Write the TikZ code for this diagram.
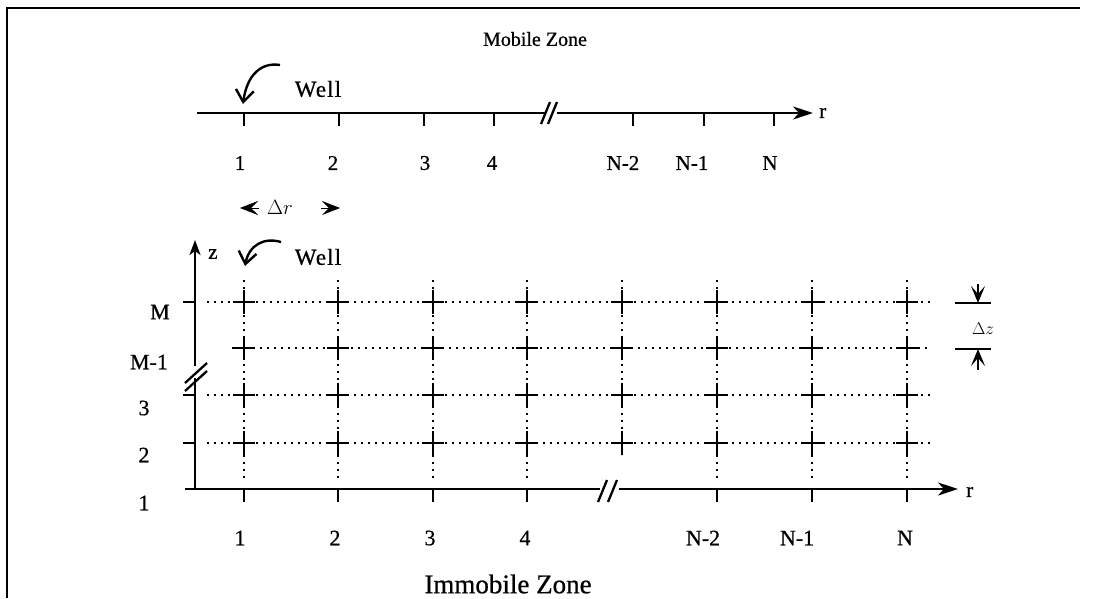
\documentclass[tikz,border=0pt]{standalone}
\usepackage{fontspec}
\setmainfont{Liberation Serif}[FakeBold=0.7]
\usetikzlibrary{arrows.meta}
\begin{document}
\begin{tikzpicture}[x=1pt,y=-1pt,
  axis/.style={line width=2.6pt},
  frameline/.style={line width=1.8pt},
  gridline/.style={line width=1.8pt, dash pattern=on 1.8pt off 5.2pt},
  crossarm/.style={line width=2.6pt},
  breakmark/.style={line width=2.3pt},
  axisarrow/.style={axis, -{Stealth[length=20pt,width=13pt,inset=6pt]}},
  zarrow/.style={axis, -{Stealth[length=15pt,width=11pt,inset=4pt]}},
  headonly/.style={-{Stealth[length=18pt,width=14pt,inset=7pt]}, line width=0.5pt},
  dzarrow/.style={line width=1.8pt, -{Stealth[length=17pt,width=14pt,inset=8pt]}},
  wellarrow/.style={line width=2.4pt, -{Straight Barb[length=12pt,width=18pt]}},
  lbl/.style={font=\fontsize{21}{21}\selectfont, inner sep=0pt},
  blbl/.style={font=\fontsize{22}{22}\selectfont, inner sep=0pt},
  welltxt/.style={font=\fontsize{23}{23}\selectfont\addfontfeature{LetterSpace=5}, inner sep=0pt},
  zonetxt/.style={font=\fontsize{20}{20}\selectfont, inner sep=0pt},
  bigzone/.style={font=\fontsize{27}{27}\selectfont, inner sep=0pt}
]
\useasboundingbox (0,0) rectangle (1109,598);

% frame (top and left edges)
\coordinate (fTL) at (7,8);
\coordinate (fTR) at (1080,8);
\coordinate (fBL) at (7,598);
\draw[frameline] (fTR) -- (fTL) -- (fBL);

% ---------- Mobile zone ----------
\node[zonetxt] (mz) at (535,39) {Mobile Zone};
\coordinate (ta0) at (197,113);
\coordinate (taB1) at (545,113);
\coordinate (taB2) at (557,113);
\coordinate (ta1) at (813,113);
\draw[axis] (ta0) -- (taB1);
\draw[axisarrow] (taB2) -- (ta1);
\coordinate (ts1a) at (541,124); \coordinate (ts1b) at (550,102);
\coordinate (ts2a) at (548,124); \coordinate (ts2b) at (557,102);
\draw[breakmark] (ts1a) -- (ts1b);
\draw[breakmark] (ts2a) -- (ts2b);
\node[lbl, anchor=west] (tr) at (819,113) {r};
\foreach \x/\lx/\t [count=\i] in {244/240/1, 339/333/2, 424/425/3, 494/492/4, 633/623/N-2, 704/692/N-1, 774/770/N} {
  \coordinate (tt\i) at (\x,113);
  \coordinate (tb\i) at (\x,126);
  \draw[axis] (tt\i) -- (tb\i);
  \node[lbl] (tl\i) at (\lx,163) {\t};
}
% well (top)
\coordinate (wt1) at (280,65);
\coordinate (wt2) at (243,104);
\draw[wellarrow] (wt1) .. controls (262,62) and (247,74) .. (wt2);
\node[welltxt] (w1) at (318,89) {Well};

% ---------- Delta r ----------
\coordinate (drL0) at (259,208); \coordinate (drL1) at (240,208);
\coordinate (drR0) at (321,208); \coordinate (drR1) at (340,208);
\draw[headonly] (drL0) -- (drL1);
\draw[headonly] (drR0) -- (drR1);
\node[lbl] (dr) at (280,207) {$\Delta r$};

% ---------- Immobile zone grid ----------
\coordinate (zb) at (195,489);
\coordinate (zB1) at (195,378);
\coordinate (zB2) at (195,366);
\coordinate (zt) at (195,240);
\draw[axis] (zb) -- (zB1);
\draw[zarrow] (zB2) -- (zt);
\coordinate (zs1a) at (185,383); \coordinate (zs1b) at (207,363);
\coordinate (zs2a) at (185,391); \coordinate (zs2b) at (207,371);
\draw[breakmark] (zs1a) -- (zs1b);
\draw[breakmark] (zs2a) -- (zs2b);
\node[lbl, anchor=west] (zl) at (208,254) {z};

% well (bottom)
\coordinate (wb1) at (281,242);
\coordinate (wb2) at (245,266);
\draw[wellarrow] (wb1) .. controls (264,237) and (249,245) .. (wb2);
\node[welltxt] (w2) at (318,257) {Well};

% horizontal dotted rows
\foreach \r/\s [count=\j] in {302/207, 348/232, 395/207, 443/207} {
  \coordinate (rowL\j) at (\s,\r);
  \coordinate (rowR\j) at (930,\r);
  \draw[gridline] (rowL\j) -- (rowR\j);
}
% ticks on z axis
\foreach \r [count=\j] in {302,395,443} {
  \coordinate (zk\j) at (183,\r);
  \coordinate (zka\j) at (195,\r);
  \draw[axis] (zk\j) -- (zka\j);
}
% row labels
\node[blbl] (rlM) at (160,312) {M};
\node[blbl] (rlM1) at (149,362) {M-1};
\node[blbl] (rl3) at (144,408) {3};
\node[blbl] (rl2) at (144,455) {2};
\node[blbl] (rl1) at (144,503) {1};

% vertical dotted columns and crosses
\foreach \c/\e [count=\i] in {244/478, 338/478, 433/478, 527/478, 622/455, 717/478, 812/478, 907/478} {
  \coordinate (cT\i) at (\c,280);
  \coordinate (cB\i) at (\c,\e);
  \draw[gridline] (cT\i) -- (cB\i);
  \foreach \r [count=\j] in {302,348,395,443} {
    \coordinate (xl\i\j) at (\c-11,\r);
    \coordinate (xr\i\j) at (\c+11,\r);
    \coordinate (xu\i\j) at (\c,\r-12);
    \coordinate (xd\i\j) at (\c,\r+12);
    \draw[crossarm] (xl\i\j) -- (xr\i\j);
    \draw[crossarm] (xu\i\j) -- (xd\i\j);
  }
}

% bottom r axis
\coordinate (ba0) at (185,489);
\coordinate (baB1) at (600,489);
\coordinate (baB2) at (619,489);
\coordinate (ba1) at (958,489);
\draw[axis] (ba0) -- (baB1);
\draw[axisarrow] (baB2) -- (ba1);
\coordinate (bs1a) at (598,502); \coordinate (bs1b) at (607,480);
\coordinate (bs2a) at (608,502); \coordinate (bs2b) at (617,480);
\draw[breakmark] (bs1a) -- (bs1b);
\draw[breakmark] (bs2a) -- (bs2b);
\node[lbl, anchor=west] (br) at (966,492) {r};
\foreach \x/\lx/\t [count=\i] in {244/240/1, 338/335/2, 433/430/3, 527/525/4, 717/703/N-2, 812/797/N-1, 907/905/N} {
  \coordinate (bt\i) at (\x,489);
  \coordinate (bb\i) at (\x,502);
  \draw[axis] (bt\i) -- (bb\i);
  \node[blbl] (bl\i) at (\lx,538) {\t};
}
\node[bigzone] (iz) at (508,584) {Immobile Zone};

% ---------- Delta z ----------
\coordinate (dzA1) at (955,303); \coordinate (dzA2) at (991,303);
\coordinate (dzB1) at (955,349); \coordinate (dzB2) at (991,349);
\draw[axis] (dzA1) -- (dzA2);
\draw[axis] (dzB1) -- (dzB2);
\coordinate (dzT0) at (978,284); \coordinate (dzT1) at (978,303);
\coordinate (dzU0) at (978,370); \coordinate (dzU1) at (978,349);
\draw[dzarrow] (dzT0) -- (dzT1);
\draw[dzarrow] (dzU0) -- (dzU1);
\node[font=\fontsize{19}{19}\selectfont, inner sep=0pt] (dz) at (983,329) {$\Delta z$};
\end{tikzpicture}
\end{document}
